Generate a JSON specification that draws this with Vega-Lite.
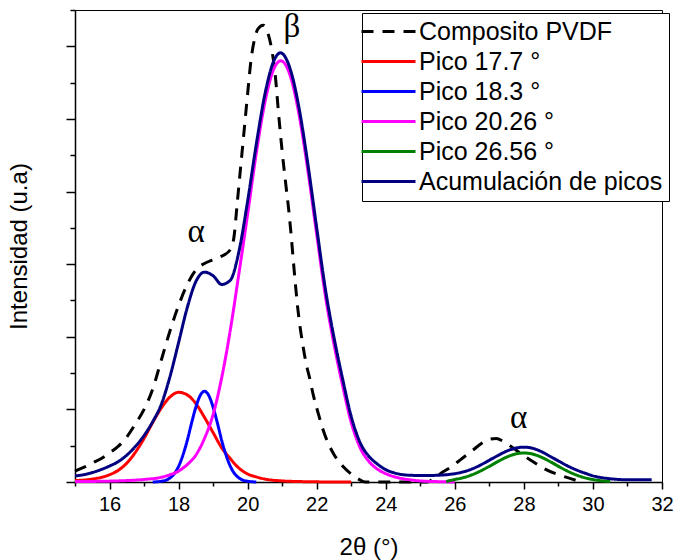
{
  "$schema": "https://vega.github.io/schema/vega-lite/v6.json",
  "width": 587,
  "height": 472,
  "autosize": {"type": "none"},
  "padding": {"left": 75, "top": 10, "right": 12, "bottom": 78},
  "background": "white",
  "config": {
    "font": "Liberation Sans",
    "view": {"stroke": "black", "strokeWidth": 1},
    "axis": {"domainColor": "black", "tickColor": "black", "domainWidth": 1.5, "tickWidth": 1.5, "labelColor": "black", "titleColor": "black", "labelFont": "Liberation Sans", "titleFont": "Liberation Sans", "titleFontWeight": "normal", "grid": false}
  },
  "encoding": {
    "x": {"field": "x", "type": "quantitative", "scale": {"domain": [15, 32], "nice": false, "zero": false},
      "axis": {"values": [15,16,17,18,19,20,21,22,23,24,25,26,27,28,29,30,31,32], "labelExpr": "datum.value % 2 == 0 ? datum.label : ''", "tickSize": {"condition": {"test": "datum.value % 2 == 0", "value": 7}, "value": 4}, "labelFontSize": 20, "labelPadding": 5, "labelFlush": false, "labelOverlap": false, "title": "2θ (°)", "titleFontSize": 24, "titlePadding": 21}},
    "y": {"field": "y", "type": "quantitative", "scale": {"domain": [0, 6.5], "nice": false},
      "axis": {"values": [0,0.5,1,1.5,2,2.5,3,3.5,4,4.5,5,5.5,6,6.5], "labels": false, "labelOverlap": false, "tickSize": {"condition": {"test": "datum.value % 1 == 0", "value": 9}, "value": 5}, "title": "Intensidad (u.a)", "titleFontSize": 24, "titlePadding": 34}}
  },
  "layer": [
    {
      "data": {"values": [
        {"s": "Composito PVDF", "x": 15, "y": 0.15}, {"s": "Composito PVDF", "x": 15.25, "y": 0.2}, {"s": "Composito PVDF", "x": 15.5, "y": 0.26}, {"s": "Composito PVDF", "x": 15.75, "y": 0.32}, {"s": "Composito PVDF", "x": 16, "y": 0.4}, {"s": "Composito PVDF", "x": 16.25, "y": 0.49}, {"s": "Composito PVDF", "x": 16.5, "y": 0.62}, {"s": "Composito PVDF", "x": 16.75, "y": 0.8}, {"s": "Composito PVDF", "x": 17, "y": 1.0}, {"s": "Composito PVDF", "x": 17.25, "y": 1.28}, {"s": "Composito PVDF", "x": 17.5, "y": 1.68}, {"s": "Composito PVDF", "x": 17.75, "y": 2.08}, {"s": "Composito PVDF", "x": 18, "y": 2.43}, {"s": "Composito PVDF", "x": 18.25, "y": 2.72}, {"s": "Composito PVDF", "x": 18.5, "y": 2.92}, {"s": "Composito PVDF", "x": 18.75, "y": 3.01}, {"s": "Composito PVDF", "x": 19, "y": 3.06}, {"s": "Composito PVDF", "x": 19.25, "y": 3.11}, {"s": "Composito PVDF", "x": 19.5, "y": 3.2}, {"s": "Composito PVDF", "x": 19.6, "y": 3.36}, {"s": "Composito PVDF", "x": 19.7, "y": 3.85}, {"s": "Composito PVDF", "x": 19.8, "y": 4.35}, {"s": "Composito PVDF", "x": 19.9, "y": 4.85}, {"s": "Composito PVDF", "x": 20, "y": 5.35}, {"s": "Composito PVDF", "x": 20.1, "y": 5.82}, {"s": "Composito PVDF", "x": 20.2, "y": 6.1}, {"s": "Composito PVDF", "x": 20.3, "y": 6.24}, {"s": "Composito PVDF", "x": 20.45, "y": 6.29}, {"s": "Composito PVDF", "x": 20.6, "y": 6.16}, {"s": "Composito PVDF", "x": 20.7, "y": 5.95}, {"s": "Composito PVDF", "x": 20.8, "y": 5.6}, {"s": "Composito PVDF", "x": 20.9, "y": 5.05}, {"s": "Composito PVDF", "x": 21, "y": 4.55}, {"s": "Composito PVDF", "x": 21.1, "y": 4.12}, {"s": "Composito PVDF", "x": 21.2, "y": 3.7}, {"s": "Composito PVDF", "x": 21.25, "y": 3.45}, {"s": "Composito PVDF", "x": 21.35, "y": 2.9}, {"s": "Composito PVDF", "x": 21.45, "y": 2.4}, {"s": "Composito PVDF", "x": 21.6, "y": 1.88}, {"s": "Composito PVDF", "x": 21.7, "y": 1.62}, {"s": "Composito PVDF", "x": 21.8, "y": 1.42}, {"s": "Composito PVDF", "x": 21.9, "y": 1.2}, {"s": "Composito PVDF", "x": 22, "y": 1.02}, {"s": "Composito PVDF", "x": 22.25, "y": 0.63}, {"s": "Composito PVDF", "x": 22.5, "y": 0.38}, {"s": "Composito PVDF", "x": 22.75, "y": 0.22}, {"s": "Composito PVDF", "x": 23, "y": 0.11}, {"s": "Composito PVDF", "x": 23.25, "y": 0.03}, {"s": "Composito PVDF", "x": 23.4, "y": 0}, {"s": "Composito PVDF", "x": 24.3, "y": 0}, {"s": "Composito PVDF", "x": 25.2, "y": 0}, {"s": "Composito PVDF", "x": 25.4, "y": 0.05}, {"s": "Composito PVDF", "x": 25.6, "y": 0.12}, {"s": "Composito PVDF", "x": 25.9, "y": 0.21}, {"s": "Composito PVDF", "x": 26.2, "y": 0.32}, {"s": "Composito PVDF", "x": 26.5, "y": 0.43}, {"s": "Composito PVDF", "x": 26.8, "y": 0.54}, {"s": "Composito PVDF", "x": 27, "y": 0.59}, {"s": "Composito PVDF", "x": 27.2, "y": 0.6}, {"s": "Composito PVDF", "x": 27.4, "y": 0.56}, {"s": "Composito PVDF", "x": 27.6, "y": 0.5}, {"s": "Composito PVDF", "x": 27.8, "y": 0.43}, {"s": "Composito PVDF", "x": 28, "y": 0.36}, {"s": "Composito PVDF", "x": 28.3, "y": 0.27}, {"s": "Composito PVDF", "x": 28.6, "y": 0.18}, {"s": "Composito PVDF", "x": 29, "y": 0.1}, {"s": "Composito PVDF", "x": 29.4, "y": 0.04}, {"s": "Composito PVDF", "x": 29.65, "y": 0},

        {"s": "Pico 17.7 °", "x": 15, "y": 0.02}, {"s": "Pico 17.7 °", "x": 15.5, "y": 0.04}, {"s": "Pico 17.7 °", "x": 16, "y": 0.1}, {"s": "Pico 17.7 °", "x": 16.25, "y": 0.16}, {"s": "Pico 17.7 °", "x": 16.5, "y": 0.26}, {"s": "Pico 17.7 °", "x": 16.75, "y": 0.41}, {"s": "Pico 17.7 °", "x": 17, "y": 0.6}, {"s": "Pico 17.7 °", "x": 17.25, "y": 0.82}, {"s": "Pico 17.7 °", "x": 17.5, "y": 1.02}, {"s": "Pico 17.7 °", "x": 17.75, "y": 1.17}, {"s": "Pico 17.7 °", "x": 18, "y": 1.235}, {"s": "Pico 17.7 °", "x": 18.25, "y": 1.2}, {"s": "Pico 17.7 °", "x": 18.5, "y": 1.08}, {"s": "Pico 17.7 °", "x": 18.75, "y": 0.89}, {"s": "Pico 17.7 °", "x": 19, "y": 0.68}, {"s": "Pico 17.7 °", "x": 19.25, "y": 0.47}, {"s": "Pico 17.7 °", "x": 19.5, "y": 0.32}, {"s": "Pico 17.7 °", "x": 19.75, "y": 0.19}, {"s": "Pico 17.7 °", "x": 20, "y": 0.11}, {"s": "Pico 17.7 °", "x": 20.25, "y": 0.07}, {"s": "Pico 17.7 °", "x": 20.5, "y": 0.04}, {"s": "Pico 17.7 °", "x": 21, "y": 0.015}, {"s": "Pico 17.7 °", "x": 21.5, "y": 0.006}, {"s": "Pico 17.7 °", "x": 22, "y": 0.002}, {"s": "Pico 17.7 °", "x": 23, "y": 0},

        {"s": "Pico 18.3 °", "x": 17.25, "y": 0}, {"s": "Pico 18.3 °", "x": 17.5, "y": 0.01}, {"s": "Pico 18.3 °", "x": 17.75, "y": 0.055}, {"s": "Pico 18.3 °", "x": 18, "y": 0.215}, {"s": "Pico 18.3 °", "x": 18.125, "y": 0.37}, {"s": "Pico 18.3 °", "x": 18.25, "y": 0.57}, {"s": "Pico 18.3 °", "x": 18.375, "y": 0.81}, {"s": "Pico 18.3 °", "x": 18.5, "y": 1.03}, {"s": "Pico 18.3 °", "x": 18.625, "y": 1.19}, {"s": "Pico 18.3 °", "x": 18.75, "y": 1.25}, {"s": "Pico 18.3 °", "x": 18.875, "y": 1.19}, {"s": "Pico 18.3 °", "x": 19, "y": 1.03}, {"s": "Pico 18.3 °", "x": 19.125, "y": 0.81}, {"s": "Pico 18.3 °", "x": 19.25, "y": 0.57}, {"s": "Pico 18.3 °", "x": 19.375, "y": 0.37}, {"s": "Pico 18.3 °", "x": 19.5, "y": 0.215}, {"s": "Pico 18.3 °", "x": 19.75, "y": 0.055}, {"s": "Pico 18.3 °", "x": 20, "y": 0.01}, {"s": "Pico 18.3 °", "x": 20.25, "y": 0},

        {"s": "Pico 20.26 °", "x": 15, "y": 0.005}, {"s": "Pico 20.26 °", "x": 15.5, "y": 0.008}, {"s": "Pico 20.26 °", "x": 16, "y": 0.012}, {"s": "Pico 20.26 °", "x": 16.5, "y": 0.02}, {"s": "Pico 20.26 °", "x": 17, "y": 0.035}, {"s": "Pico 20.26 °", "x": 17.5, "y": 0.065}, {"s": "Pico 20.26 °", "x": 17.75, "y": 0.1}, {"s": "Pico 20.26 °", "x": 18, "y": 0.15}, {"s": "Pico 20.26 °", "x": 18.25, "y": 0.24}, {"s": "Pico 20.26 °", "x": 18.5, "y": 0.37}, {"s": "Pico 20.26 °", "x": 18.75, "y": 0.6}, {"s": "Pico 20.26 °", "x": 19, "y": 0.93}, {"s": "Pico 20.26 °", "x": 19.25, "y": 1.44}, {"s": "Pico 20.26 °", "x": 19.5, "y": 2.1}, {"s": "Pico 20.26 °", "x": 19.75, "y": 2.88}, {"s": "Pico 20.26 °", "x": 20, "y": 3.69}, {"s": "Pico 20.26 °", "x": 20.25, "y": 4.53}, {"s": "Pico 20.26 °", "x": 20.5, "y": 5.23}, {"s": "Pico 20.26 °", "x": 20.75, "y": 5.68}, {"s": "Pico 20.26 °", "x": 20.96, "y": 5.8}, {"s": "Pico 20.26 °", "x": 21.25, "y": 5.57}, {"s": "Pico 20.26 °", "x": 21.5, "y": 5.03}, {"s": "Pico 20.26 °", "x": 21.75, "y": 4.27}, {"s": "Pico 20.26 °", "x": 22, "y": 3.41}, {"s": "Pico 20.26 °", "x": 22.25, "y": 2.57}, {"s": "Pico 20.26 °", "x": 22.5, "y": 1.9}, {"s": "Pico 20.26 °", "x": 22.75, "y": 1.33}, {"s": "Pico 20.26 °", "x": 23, "y": 0.82}, {"s": "Pico 20.26 °", "x": 23.25, "y": 0.48}, {"s": "Pico 20.26 °", "x": 23.5, "y": 0.29}, {"s": "Pico 20.26 °", "x": 23.75, "y": 0.18}, {"s": "Pico 20.26 °", "x": 24, "y": 0.115}, {"s": "Pico 20.26 °", "x": 24.25, "y": 0.072}, {"s": "Pico 20.26 °", "x": 24.5, "y": 0.045}, {"s": "Pico 20.26 °", "x": 25, "y": 0.015}, {"s": "Pico 20.26 °", "x": 25.5, "y": 0.005}, {"s": "Pico 20.26 °", "x": 26, "y": 0},

        {"s": "Pico 26.56 °", "x": 25.75, "y": 0.008}, {"s": "Pico 26.56 °", "x": 26, "y": 0.034}, {"s": "Pico 26.56 °", "x": 26.25, "y": 0.06}, {"s": "Pico 26.56 °", "x": 26.5, "y": 0.1}, {"s": "Pico 26.56 °", "x": 26.75, "y": 0.153}, {"s": "Pico 26.56 °", "x": 27, "y": 0.216}, {"s": "Pico 26.56 °", "x": 27.25, "y": 0.283}, {"s": "Pico 26.56 °", "x": 27.5, "y": 0.343}, {"s": "Pico 26.56 °", "x": 27.75, "y": 0.385}, {"s": "Pico 26.56 °", "x": 28, "y": 0.4}, {"s": "Pico 26.56 °", "x": 28.25, "y": 0.385}, {"s": "Pico 26.56 °", "x": 28.5, "y": 0.343}, {"s": "Pico 26.56 °", "x": 28.75, "y": 0.283}, {"s": "Pico 26.56 °", "x": 29, "y": 0.216}, {"s": "Pico 26.56 °", "x": 29.25, "y": 0.153}, {"s": "Pico 26.56 °", "x": 29.5, "y": 0.1}, {"s": "Pico 26.56 °", "x": 29.75, "y": 0.06}, {"s": "Pico 26.56 °", "x": 30, "y": 0.034}, {"s": "Pico 26.56 °", "x": 30.25, "y": 0.017}, {"s": "Pico 26.56 °", "x": 30.5, "y": 0.008},

        {"s": "Acumulación de picos", "x": 15, "y": 0.085}, {"s": "Acumulación de picos", "x": 15.25, "y": 0.1}, {"s": "Acumulación de picos", "x": 15.5, "y": 0.13}, {"s": "Acumulación de picos", "x": 15.75, "y": 0.17}, {"s": "Acumulación de picos", "x": 16, "y": 0.22}, {"s": "Acumulación de picos", "x": 16.25, "y": 0.28}, {"s": "Acumulación de picos", "x": 16.5, "y": 0.37}, {"s": "Acumulación de picos", "x": 16.75, "y": 0.49}, {"s": "Acumulación de picos", "x": 17, "y": 0.64}, {"s": "Acumulación de picos", "x": 17.25, "y": 0.83}, {"s": "Acumulación de picos", "x": 17.5, "y": 1.07}, {"s": "Acumulación de picos", "x": 17.75, "y": 1.45}, {"s": "Acumulación de picos", "x": 18, "y": 1.92}, {"s": "Acumulación de picos", "x": 18.25, "y": 2.4}, {"s": "Acumulación de picos", "x": 18.5, "y": 2.76}, {"s": "Acumulación de picos", "x": 18.75, "y": 2.89}, {"s": "Acumulación de picos", "x": 19, "y": 2.84}, {"s": "Acumulación de picos", "x": 19.25, "y": 2.72}, {"s": "Acumulación de picos", "x": 19.5, "y": 2.78}, {"s": "Acumulación de picos", "x": 19.75, "y": 3.18}, {"s": "Acumulación de picos", "x": 20, "y": 3.87}, {"s": "Acumulación de picos", "x": 20.25, "y": 4.65}, {"s": "Acumulación de picos", "x": 20.5, "y": 5.34}, {"s": "Acumulación de picos", "x": 20.75, "y": 5.79}, {"s": "Acumulación de picos", "x": 20.95, "y": 5.91}, {"s": "Acumulación de picos", "x": 21.25, "y": 5.66}, {"s": "Acumulación de picos", "x": 21.5, "y": 5.12}, {"s": "Acumulación de picos", "x": 21.75, "y": 4.36}, {"s": "Acumulación de picos", "x": 22, "y": 3.5}, {"s": "Acumulación de picos", "x": 22.25, "y": 2.66}, {"s": "Acumulación de picos", "x": 22.5, "y": 1.99}, {"s": "Acumulación de picos", "x": 22.75, "y": 1.42}, {"s": "Acumulación de picos", "x": 23, "y": 0.9}, {"s": "Acumulación de picos", "x": 23.25, "y": 0.55}, {"s": "Acumulación de picos", "x": 23.5, "y": 0.36}, {"s": "Acumulación de picos", "x": 23.75, "y": 0.25}, {"s": "Acumulación de picos", "x": 24, "y": 0.17}, {"s": "Acumulación de picos", "x": 24.25, "y": 0.125}, {"s": "Acumulación de picos", "x": 24.5, "y": 0.1}, {"s": "Acumulación de picos", "x": 24.75, "y": 0.092}, {"s": "Acumulación de picos", "x": 25, "y": 0.09}, {"s": "Acumulación de picos", "x": 25.25, "y": 0.09}, {"s": "Acumulación de picos", "x": 25.5, "y": 0.093}, {"s": "Acumulación de picos", "x": 25.75, "y": 0.1}, {"s": "Acumulación de picos", "x": 26, "y": 0.115}, {"s": "Acumulación de picos", "x": 26.25, "y": 0.14}, {"s": "Acumulación de picos", "x": 26.5, "y": 0.18}, {"s": "Acumulación de picos", "x": 26.75, "y": 0.235}, {"s": "Acumulación de picos", "x": 27, "y": 0.3}, {"s": "Acumulación de picos", "x": 27.25, "y": 0.365}, {"s": "Acumulación de picos", "x": 27.5, "y": 0.425}, {"s": "Acumulación de picos", "x": 27.75, "y": 0.465}, {"s": "Acumulación de picos", "x": 28, "y": 0.48}, {"s": "Acumulación de picos", "x": 28.25, "y": 0.465}, {"s": "Acumulación de picos", "x": 28.5, "y": 0.42}, {"s": "Acumulación de picos", "x": 28.75, "y": 0.355}, {"s": "Acumulación de picos", "x": 29, "y": 0.29}, {"s": "Acumulación de picos", "x": 29.25, "y": 0.225}, {"s": "Acumulación de picos", "x": 29.5, "y": 0.17}, {"s": "Acumulación de picos", "x": 29.75, "y": 0.125}, {"s": "Acumulación de picos", "x": 30, "y": 0.085}, {"s": "Acumulación de picos", "x": 30.25, "y": 0.06}, {"s": "Acumulación de picos", "x": 30.5, "y": 0.045}, {"s": "Acumulación de picos", "x": 30.75, "y": 0.035}, {"s": "Acumulación de picos", "x": 31, "y": 0.03}, {"s": "Acumulación de picos", "x": 31.5, "y": 0.03}, {"s": "Acumulación de picos", "x": 31.7, "y": 0.03}
      ]},
      "encoding": {
        "color": {"field": "s", "type": "nominal",
          "scale": {"domain": ["Composito PVDF", "Pico 17.7 °", "Pico 18.3 °", "Pico 20.26 °", "Pico 26.56 °", "Acumulación de picos"], "range": ["#000000", "#FF0000", "#0000FF", "#FF00FF", "#008000", "#000080"]},
          "legend": {"title": null, "orient": "none", "legendX": 287, "legendY": 3, "symbolType": "M-3,0H3", "symbolSize": 324, "symbolStrokeWidth": 3, "symbolOffset": 8, "labelOffset": 18, "labelFontSize": 25, "labelFont": "Liberation Sans", "labelColor": "black", "labelLimit": 400, "rowPadding": 4, "padding": 6, "strokeColor": "black", "fillColor": "white", "cornerRadius": 0}},
        "strokeDash": {"field": "s", "type": "nominal",
          "scale": {"domain": ["Composito PVDF", "Pico 17.7 °", "Pico 18.3 °", "Pico 20.26 °", "Pico 26.56 °", "Acumulación de picos"], "range": [[12, 9], [1, 0], [1, 0], [1, 0], [1, 0], [1, 0]]},
          "legend": {"title": null, "orient": "none", "legendX": 287, "legendY": 3, "symbolType": "M-3,0H3", "symbolSize": 324, "symbolStrokeWidth": 3, "symbolOffset": 8, "labelOffset": 18, "labelFontSize": 25, "labelFont": "Liberation Sans", "labelColor": "black", "labelLimit": 400, "rowPadding": 4, "padding": 6, "strokeColor": "black", "fillColor": "white", "cornerRadius": 0}}
      },
      "layer": [
        {"transform": [{"filter": "datum.s == 'Composito PVDF'"}], "mark": {"type": "line", "interpolate": "monotone", "strokeWidth": 3}},
        {"transform": [{"filter": "datum.s == 'Pico 17.7 °'"}], "mark": {"type": "line", "interpolate": "monotone", "strokeWidth": 3}},
        {"transform": [{"filter": "datum.s == 'Pico 18.3 °'"}], "mark": {"type": "line", "interpolate": "monotone", "strokeWidth": 3}},
        {"transform": [{"filter": "datum.s == 'Pico 20.26 °'"}], "mark": {"type": "line", "interpolate": "monotone", "strokeWidth": 3}},
        {"transform": [{"filter": "datum.s == 'Pico 26.56 °'"}], "mark": {"type": "line", "interpolate": "monotone", "strokeWidth": 3}},
        {"transform": [{"filter": "datum.s == 'Acumulación de picos'"}], "mark": {"type": "line", "interpolate": "monotone", "strokeWidth": 3}}
      ]
    },
    {
      "data": {"values": [
        {"x": 18.51, "y": 3.3, "t": "α"},
        {"x": 21.28, "y": 6.13, "t": "β"},
        {"x": 27.85, "y": 0.75, "t": "α"}
      ]},
      "mark": {"type": "text", "font": "Liberation Serif", "fontSize": 33, "baseline": "alphabetic", "align": "center", "color": "black"},
      "encoding": {
        "text": {"field": "t", "type": "nominal"}
      }
    }
  ]
}
